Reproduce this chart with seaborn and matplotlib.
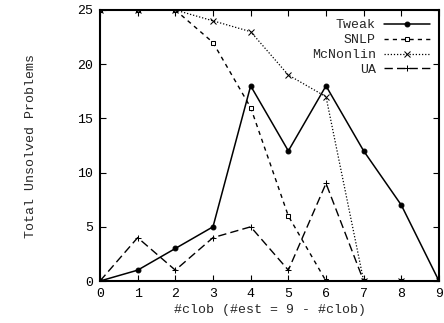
import matplotlib
matplotlib.use("Agg")
import matplotlib.pyplot as plt
import seaborn as sns
import pandas as pd

x = [0, 1, 2, 3, 4, 5, 6, 7, 8, 9]
tweak = [0, 1, 3, 5, 18, 12, 18, 12, 7, 0]
snlp = [25, 25, 25, 22, 16, 6, 0, 0, 0, 0]
mcnonlin = [25, 25, 25, 24, 23, 19, 17, 0, 0, 0]
ua = [0, 4, 1, 4, 5, 1, 9, 0, 0, 0]
series_names = ["Tweak", "SNLP", "McNonlin", "UA"]

sns.set_style("ticks")
plt.rcParams['font.family'] = ['Liberation Mono', 'DejaVu Sans Mono']
plt.rcParams['font.size'] = 9.5

fig = plt.figure(figsize=(4.44, 3.23), dpi=100)
ax = fig.add_axes([100/444, 42/323, 339/444, 271/323])

styles = {
    "Tweak": dict(linestyle="-", marker="o", markersize=3.5, markerfacecolor="black", linewidth=1.1),
    "SNLP": dict(linestyle=(0, (3, 3)), marker="s", markersize=3.5, markerfacecolor="white", linewidth=1.0),
    "McNonlin": dict(linestyle=(0, (1, 1.5)), marker="x", markersize=4, linewidth=0.9),
    "UA": dict(linestyle=(0, (6, 3)), marker="+", markersize=5, linewidth=1.0),
}
data = {"Tweak": tweak, "SNLP": snlp, "McNonlin": mcnonlin, "UA": ua}
for name in series_names:
    df = pd.DataFrame({"x": x, "y": data[name]})
    sns.lineplot(data=df, x="x", y="y", ax=ax, color="black", label=name,
                 markeredgecolor="black", **styles[name])

ax.set_xlim(0, 9)
ax.set_ylim(0, 25)
ax.set_xticks(range(0, 10))
ax.set_yticks(range(0, 26, 5))
ax.tick_params(direction="in", top=True, right=True, length=4, width=0.8, colors="black", labelsize=9.5, pad=5)
for s in ax.spines.values():
    s.set_linewidth(1.5)
    s.set_color("black")
ax.set_xlabel("#clob (#est = 9 - #clob)", fontsize=9.5, labelpad=3)
ax.set_ylabel("Total Unsolved Problems", fontsize=9.5, labelpad=29)

leg = ax.legend(loc="upper right", frameon=False, markerfirst=False, handlelength=3.5,
                fontsize=9.5, labelspacing=0.2, borderaxespad=0.3, handletextpad=0.6)
for t in leg.get_texts():
    t.set_ha("right")

fig.savefig("out.png", dpi=100)
